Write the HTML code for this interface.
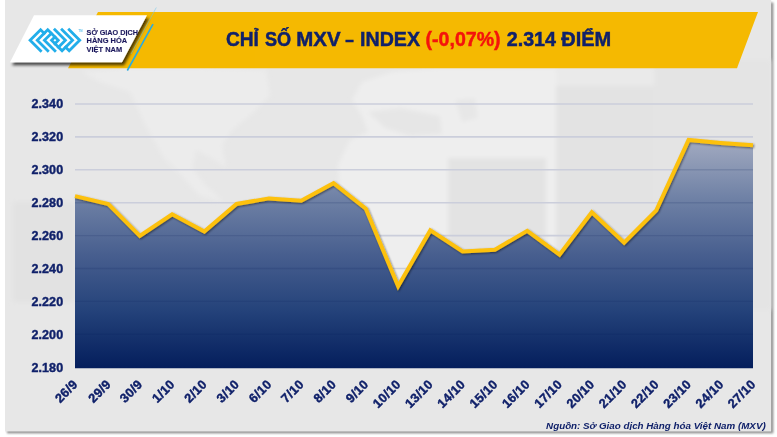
<!DOCTYPE html>
<html><head><meta charset="utf-8">
<style>
html,body{margin:0;padding:0;background:#ffffff;}
body{width:777px;height:437px;overflow:hidden;position:relative;font-family:"Liberation Sans",sans-serif;}
svg{position:absolute;left:0;top:0;display:block;will-change:transform;opacity:0.9999}
svg text{font-family:"Liberation Sans",sans-serif;}
</style></head><body>
<svg width="777" height="437" viewBox="0 0 777 437">
<defs>
<linearGradient id="ag" gradientUnits="userSpaceOnUse" x1="0" y1="140" x2="0" y2="368">
<stop offset="0" stop-color="#a2aac0"/>
<stop offset="0.25" stop-color="#7082a6"/>
<stop offset="0.5" stop-color="#485f8f"/>
<stop offset="0.75" stop-color="#24427a"/>
<stop offset="1" stop-color="#041e5c"/>
</linearGradient>
<clipPath id="ac"><path d="M75,368.2 L75,196.1 L75.0,196.1 L108.3,204.0 L139.8,235.8 L172.1,214.3 L204.3,231.6 L236.6,204.0 L268.9,198.4 L301.2,200.7 L333.5,183.2 L365.8,208.7 L398.1,286.3 L430.3,230.4 L462.6,251.4 L494.9,249.8 L527.2,230.8 L559.5,254.7 L591.8,212.3 L624.1,242.7 L656.3,210.3 L688.6,139.9 L720.9,142.9 L753.0,145.2 L753,145.2 L753,368.2 Z"/></clipPath>
<filter id="ls" x="-5%" y="-20%" width="110%" height="140%">
<feGaussianBlur in="SourceAlpha" stdDeviation="0.9"/>
<feOffset dx="0.5" dy="1.2" result="o"/>
<feComponentTransfer><feFuncA type="linear" slope="0.5"/></feComponentTransfer>
<feMerge><feMergeNode/><feMergeNode in="SourceGraphic"/></feMerge>
</filter>
<filter id="bs" x="-20%" y="-30%" width="140%" height="180%">
<feGaussianBlur in="SourceAlpha" stdDeviation="1.7"/>
<feOffset dx="1.8" dy="2.6"/>
<feComponentTransfer><feFuncA type="linear" slope="0.7"/></feComponentTransfer>
<feMerge><feMergeNode/><feMergeNode in="SourceGraphic"/></feMerge>
</filter>
<filter id="bgb" x="-5%" y="-5%" width="110%" height="110%"><feGaussianBlur stdDeviation="2.2"/></filter>
<filter id="cs" x="-5%" y="-5%" width="110%" height="110%">
<feGaussianBlur stdDeviation="0.95"/>
</filter>
</defs>
<!-- card shadow + card -->
<rect x="7" y="2.5" width="766.3" height="430.8" fill="#8c8c8c" filter="url(#cs)"/>
<rect x="5" y="-5" width="766.2" height="436.5" fill="#e7e7e7"/>
<!-- faint background decoration -->
<g filter="url(#bgb)">
<polygon points="82,72 130,68 200,68 266,70 270,95 254,112 232,130 222,145 226,168 215,160 196,150 192,168 205,185 224,202 200,196 180,174 164,158 147,128 130,92 100,82" fill="#ececec"/>
<polygon points="352,100 362,82 392,72 440,68 500,68 556,68 556,300 370,300 352,240 340,200 338,165 350,140 368,132 362,116" fill="#eeeeee"/>
<polygon points="368,112 400,108 440,116 442,134 410,136 385,128" fill="#e6e6e6"/>
<polygon points="455,100 475,98 478,118 462,122" fill="#e7e7e7"/>
<rect x="556" y="86" width="98" height="215" fill="#e3e3e3"/>
<rect x="448" y="158" width="98" height="140" fill="#e3e3e3"/>
<rect x="13" y="202" width="62" height="100" fill="#e2e2e2"/>
<rect x="654" y="60" width="117" height="250" fill="#e4e4e4"/>
<polygon points="556,68 654,68 654,86 556,86" fill="#eaeaea"/>
</g>
<!-- banner -->
<polygon points="98,12 758,12 737,68.3 68,68.3" fill="#f5b900"/>
<!-- logo box -->
<polygon points="34,15.2 147,15.2 122,62.3 10,62.3" fill="#ffffff" filter="url(#bs)"/>
<line x1="153" y1="24.2" x2="127.3" y2="70.5" stroke="#29abe2" stroke-width="1.6"/>
<line x1="156.3" y1="7.5" x2="131" y2="54" stroke="#6cc5ea" stroke-width="0.5"/>
<g fill="none" stroke="#22aeea" stroke-width="2.8" stroke-linejoin="miter" stroke-miterlimit="10" stroke-linecap="square"><polyline points="44.17,33.38 40.60,29.80 30.10,40.30 40.60,50.80"/><polyline points="65.62,47.22 69.20,50.80 79.70,40.30 69.20,29.80"/><polyline points="47.75,50.80 37.25,40.30 47.75,29.80 58.25,40.30 54.90,43.65"/><polyline points="62.05,29.80 72.55,40.30 62.05,50.80 51.55,40.30 54.90,36.95"/><polyline points="54.90,50.80 44.40,40.30 51.32,33.38"/><polyline points="54.90,29.80 65.40,40.30 58.48,47.22"/></g>
<text x="78.6" y="31.5" font-size="2.7" fill="#5cc0ec" font-weight="bold">TM</text>
<g font-weight="bold" font-size="8" fill="#1d1a5e" stroke="#1d1a5e" stroke-width="0.15">
<text x="86.6" y="35.0" textLength="51.3" lengthAdjust="spacingAndGlyphs">SỞ GIAO DỊCH</text>
<text x="86.6" y="43.4" textLength="40.5" lengthAdjust="spacingAndGlyphs">HÀNG HÓA</text>
<text x="86.6" y="51.7" textLength="35.5" lengthAdjust="spacingAndGlyphs">VIỆT NAM</text>
</g>
<!-- title -->
<g font-weight="bold" font-size="19.3" fill="#10216a" stroke="#10216a" stroke-width="0.45" lengthAdjust="spacingAndGlyphs">
<text x="225.9" y="46.2" textLength="33" lengthAdjust="spacingAndGlyphs">CHỈ</text>
<text x="265.0" y="46.2" textLength="26.2" lengthAdjust="spacingAndGlyphs">SỐ</text>
<text x="296.3" y="46.2" textLength="44.3" lengthAdjust="spacingAndGlyphs">MXV</text>
<text x="345.2" y="46.2" textLength="8.6" lengthAdjust="spacingAndGlyphs">–</text>
<text x="360.0" y="46.2" textLength="60" lengthAdjust="spacingAndGlyphs">INDEX</text>
<text x="425.6" y="46.2" fill="#f4130c" stroke="#f4130c" textLength="75" lengthAdjust="spacingAndGlyphs">(-0,07%)</text>
<text x="506.8" y="46.2" textLength="49.2" lengthAdjust="spacingAndGlyphs">2.314</text>
<text x="561.2" y="46.2" textLength="50" lengthAdjust="spacingAndGlyphs">ĐIỂM</text>
</g>
<!-- grid -->
<g stroke="#cbcedb" stroke-width="1.6"><line x1="75" x2="753" y1="104.0" y2="104.0"/><line x1="75" x2="753" y1="136.9" y2="136.9"/><line x1="75" x2="753" y1="169.8" y2="169.8"/><line x1="75" x2="753" y1="202.7" y2="202.7"/><line x1="75" x2="753" y1="235.6" y2="235.6"/><line x1="75" x2="753" y1="268.5" y2="268.5"/><line x1="75" x2="753" y1="301.4" y2="301.4"/><line x1="75" x2="753" y1="334.3" y2="334.3"/></g>
<!-- area -->
<path d="M75,368.2 L75,196.1 L75.0,196.1 L108.3,204.0 L139.8,235.8 L172.1,214.3 L204.3,231.6 L236.6,204.0 L268.9,198.4 L301.2,200.7 L333.5,183.2 L365.8,208.7 L398.1,286.3 L430.3,230.4 L462.6,251.4 L494.9,249.8 L527.2,230.8 L559.5,254.7 L591.8,212.3 L624.1,242.7 L656.3,210.3 L688.6,139.9 L720.9,142.9 L753.0,145.2 L753,145.2 L753,368.2 Z" fill="url(#ag)"/>
<g stroke="#0a1f5c" stroke-opacity="0.14" stroke-width="1.4" clip-path="url(#ac)"><line x1="75" x2="753" y1="104.0" y2="104.0"/><line x1="75" x2="753" y1="136.9" y2="136.9"/><line x1="75" x2="753" y1="169.8" y2="169.8"/><line x1="75" x2="753" y1="202.7" y2="202.7"/><line x1="75" x2="753" y1="235.6" y2="235.6"/><line x1="75" x2="753" y1="268.5" y2="268.5"/><line x1="75" x2="753" y1="301.4" y2="301.4"/><line x1="75" x2="753" y1="334.3" y2="334.3"/></g>
<polyline points="75.0,196.1 108.3,204.0 139.8,235.8 172.1,214.3 204.3,231.6 236.6,204.0 268.9,198.4 301.2,200.7 333.5,183.2 365.8,208.7 398.1,286.3 430.3,230.4 462.6,251.4 494.9,249.8 527.2,230.8 559.5,254.7 591.8,212.3 624.1,242.7 656.3,210.3 688.6,139.9 720.9,142.9 753.0,145.2" fill="none" stroke="#fdc10e" stroke-width="4.0" stroke-linejoin="miter" stroke-miterlimit="5" stroke-linecap="butt" filter="url(#ls)"/>
<!-- y labels -->
<g font-weight="bold" font-size="12.5" fill="#10216a" stroke="#10216a" stroke-width="0.4" text-anchor="end" letter-spacing="0.1"><text x="63.2" y="108.4">2.340</text><text x="63.2" y="141.3">2.320</text><text x="63.2" y="174.2">2.300</text><text x="63.2" y="207.1">2.280</text><text x="63.2" y="240.0">2.260</text><text x="63.2" y="272.9">2.240</text><text x="63.2" y="305.8">2.220</text><text x="63.2" y="338.7">2.200</text><text x="63.2" y="371.6">2.180</text></g>
<g font-weight="bold" font-size="12.7" fill="#10216a" stroke="#10216a" stroke-width="0.4" text-anchor="end" letter-spacing="0.3"><text transform="translate(75.4,382.1) rotate(-45)" x="0" y="4.3">26/9</text><text transform="translate(108.7,382.1) rotate(-45)" x="0" y="4.3">29/9</text><text transform="translate(140.2,382.1) rotate(-45)" x="0" y="4.3">30/9</text><text transform="translate(172.5,382.1) rotate(-45)" x="0" y="4.3">1/10</text><text transform="translate(204.7,382.1) rotate(-45)" x="0" y="4.3">2/10</text><text transform="translate(237.0,382.1) rotate(-45)" x="0" y="4.3">3/10</text><text transform="translate(269.3,382.1) rotate(-45)" x="0" y="4.3">6/10</text><text transform="translate(301.6,382.1) rotate(-45)" x="0" y="4.3">7/10</text><text transform="translate(333.9,382.1) rotate(-45)" x="0" y="4.3">8/10</text><text transform="translate(366.2,382.1) rotate(-45)" x="0" y="4.3">9/10</text><text transform="translate(398.5,382.1) rotate(-45)" x="0" y="4.3">10/10</text><text transform="translate(430.7,382.1) rotate(-45)" x="0" y="4.3">13/10</text><text transform="translate(463.0,382.1) rotate(-45)" x="0" y="4.3">14/10</text><text transform="translate(495.3,382.1) rotate(-45)" x="0" y="4.3">15/10</text><text transform="translate(527.6,382.1) rotate(-45)" x="0" y="4.3">16/10</text><text transform="translate(559.9,382.1) rotate(-45)" x="0" y="4.3">17/10</text><text transform="translate(592.2,382.1) rotate(-45)" x="0" y="4.3">20/10</text><text transform="translate(624.5,382.1) rotate(-45)" x="0" y="4.3">21/10</text><text transform="translate(656.7,382.1) rotate(-45)" x="0" y="4.3">22/10</text><text transform="translate(689.0,382.1) rotate(-45)" x="0" y="4.3">23/10</text><text transform="translate(721.3,382.1) rotate(-45)" x="0" y="4.3">24/10</text><text transform="translate(753.4,382.1) rotate(-45)" x="0" y="4.3">27/10</text></g>
<text x="765.7" y="428.6" text-anchor="end" font-weight="bold" font-style="italic" font-size="9.8" fill="#10216a">Nguồn: Sở Giao dịch Hàng hóa Việt Nam (MXV)</text>
</svg>
</body></html>
